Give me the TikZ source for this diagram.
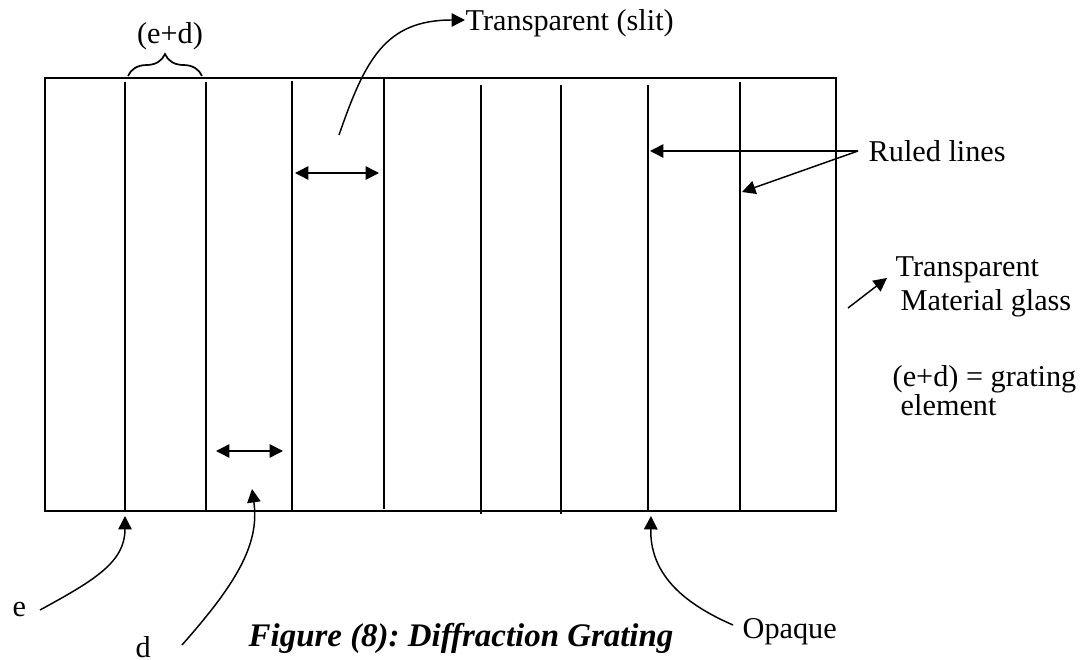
\documentclass[tikz,border=0pt]{standalone}
\usepackage{fontspec}
\setmainfont{Liberation Serif}
\usetikzlibrary{arrows.meta,decorations.pathreplacing}
\tikzstyle{label} = [inner sep=0pt, anchor=base west,
                 font=\fontsize{12.4pt}{14pt}\selectfont]
\tikzstyle{pointer} = [line width=0.6pt, -{Triangle[length=5.5pt,width=5.5pt]}]
\tikzstyle{span} = [line width=0.6pt,
                 {Triangle[length=5.5pt,width=5.5pt]}-{Triangle[length=5.5pt,width=5.5pt]}]

\begin{document}
\frenchspacing
\begin{tikzpicture}[x=0.41pt, y=-0.41pt, line width=0.6pt]
\useasboundingbox (0,0) rectangle (1081,660);

% glass plate
\draw[line width=0.7pt] (45,78) rectangle (836,511);
    	%ruled lines
\foreach \x/\top/\bot in {125/82/511, 206/82/511, 292/81/511, 384/78/509,
                          481/85/514, 561/85/514, 648/85/512, 740/82/511}
	\draw (\x,\top) -- (\x,\bot);

% grating element
\draw[decorate, decoration={brace, amplitude=9pt}, line width=0.7pt] (128,76) -- (202,76);
\node [label, anchor=center] (ed) at (170,36) {(e+d)};

% slit width and line spacing
\coordinate (slitL) at (295,173);
\coordinate (slitR) at (379,173);
\draw[span] (slitL) -- (slitR);
\coordinate (gapL) at (216,451);
\coordinate (gapR) at (283,451);
\draw[span] (gapL) -- (gapR);

% labels
\node [label] (slit) at (465,31) {Transparent (slit)};
\node [label] (ruled) at (868,162) {Ruled lines};
\node [label] (glassA) at (895,277) {Transparent};
\node [label] (glassB) at (900,310) {Material glass};
\node [label] (elemA) at (892,386) {(e+d) = grating};
\node [label] (elemB) at (900,415) {element};
\node [label] (e) at (12,616) {e};
\node [label] (d) at (135,657) {d};
\node [label] (opaque) at (742,638) {Opaque};
\node [label, font=\fontsize{13.5pt}{16pt}\selectfont\bfseries\itshape]
	(caption) at (248,646) {Figure (8): Diffraction Grating};

% pointers
\coordinate (slitfoot) at (339,135);
\draw[pointer] (slitfoot) .. controls (365,60) and (385,20) .. (slit.west |- 0,20);
\coordinate (ruledtail) at (858,151);
\coordinate (lineA) at (650,151);
\coordinate (lineB) at (742,192);
\draw[pointer] (ruledtail) -- (lineA);
\draw[pointer] (ruledtail) -- (lineB);
\coordinate (glasstail) at (848,308);
\coordinate (glasstip) at (887,278);
\draw[pointer] (glasstail) -- (glasstip);
\coordinate (etail) at (40,610);
\coordinate (etip) at (125,516);
\draw[pointer] (etail) .. controls (95,580) and (125,562) .. (etip);
\coordinate (dtail) at (182,645);
\coordinate (dtip) at (252,489);
\draw[pointer] (dtail) .. controls (235,585) and (260,545) .. (dtip);
\coordinate (otail) at (733,625);
\coordinate (otip) at (651,516);
\draw[pointer] (otail) .. controls (680,602) and (650,572) .. (otip);

\end{tikzpicture}
\end{document}
